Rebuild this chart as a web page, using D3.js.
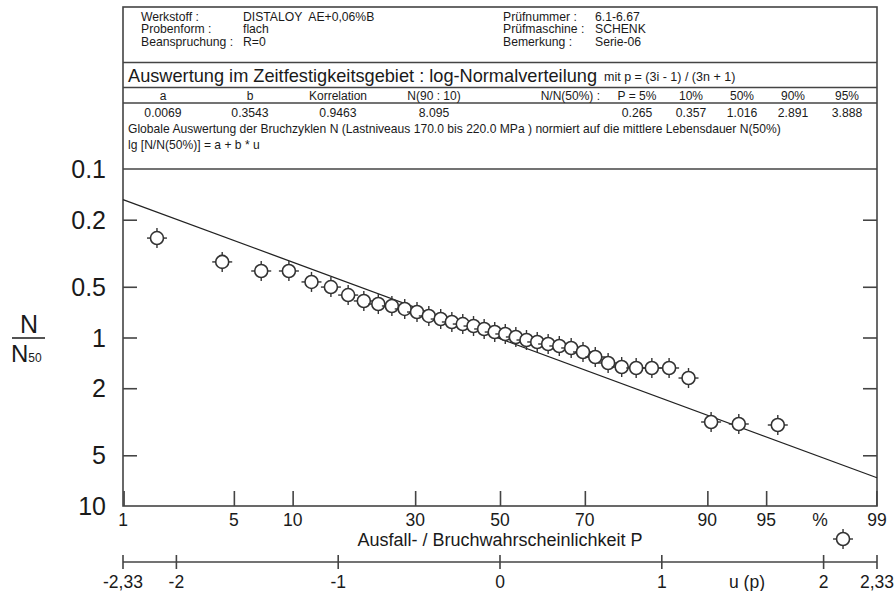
<!DOCTYPE html>
<html>
<head>
<meta charset="utf-8">
<script src="https://cdn.jsdelivr.net/npm/d3@7"></script>
<style>
  body { margin: 0; background: #fff; }
  svg { display: block; font-family: "Liberation Sans", Arial, sans-serif; }
  text { white-space: pre; }
</style>
</head>
<body>
<div id="chart"></div>
<script>
// Ausfallwahrscheinlichkeit P (%) der Proben, Reihenfolge i = 1..38
const probPercent = [1.7, 4.3, 7.0, 9.6, 12.2, 14.8, 17.4, 20.0, 22.6, 25.2,
  27.8, 30.4, 33.0, 35.7, 38.3, 40.9, 43.5, 46.1, 48.7, 51.3,
  53.9, 56.5, 59.1, 61.7, 64.3, 67.0, 69.6, 72.2, 74.8, 77.4,
  80.0, 82.6, 85.2, 87.8, 90.4, 93.0, 95.7, 98.3];
// N / N50
const nRatio = [0.257, 0.356, 0.403, 0.403, 0.468, 0.502, 0.560, 0.607, 0.633, 0.650,
  0.677, 0.706, 0.745, 0.777, 0.809, 0.832, 0.855, 0.890, 0.928, 0.953,
  0.993, 1.035, 1.063, 1.093, 1.123, 1.154, 1.219, 1.305, 1.417, 1.497,
  1.517, 1.517, 1.517, 1.740, 3.173, 3.261, 3.306, 15.7];

// Regression lg[N/N(50%)] = a + b*u
const fitA = 0.0069;
const fitB = 0.3543;

const yTicks = [0.1, 0.2, 0.5, 1, 2, 5, 10];
const pTicks = [1, 5, 10, 30, 50, 70, 90, 95, 99];
const uTicks = [-2.33, -2, -1, 0, 1, 2, 2.33];

const infoLeft = [["Werkstoff :", "DISTALOY  AE+0,06%B"], ["Probenform :", "flach"], ["Beanspruchung :", "R=0"]];
const infoRight = [["Prüfnummer :", "6.1-6.67"], ["Prüfmaschine :", "SCHENK"], ["Bemerkung :", "Serie-06"]];
const colHeads = ["a", "b", "Korrelation", "N(90 : 10)"];
const colValues = ["0.0069", "0.3543", "0.9463", "8.095"];
const pHeads = ["P = 5%", "10%", "50%", "90%", "95%"];
const pValues = ["0.265", "0.357", "1.016", "2.891", "3.888"];

// inverse Normalverteilung (Acklam)
function normInv(p) {
  const a = [-3.969683028665376e+01, 2.209460984245205e+02, -2.759285104469687e+02, 1.383577518672690e+02, -3.066479806614716e+01, 2.506628277459239e+00];
  const b = [-5.447609879822406e+01, 1.615858368580409e+02, -1.556989798598866e+02, 6.680131188771972e+01, -1.328068155288572e+01];
  const c = [-7.784894002430293e-03, -3.223964580411365e-01, -2.400758277161838e+00, -2.549732539343734e+00, 4.374664141464968e+00, 2.938163982698783e+00];
  const d = [7.784695709041462e-03, 3.224671290700398e-01, 2.445134137142996e+00, 3.754408661907416e+00];
  const pl = 0.02425;
  let q, r;
  if (p < pl) {
    q = Math.sqrt(-2 * Math.log(p));
    return (((((c[0]*q+c[1])*q+c[2])*q+c[3])*q+c[4])*q+c[5]) / ((((d[0]*q+d[1])*q+d[2])*q+d[3])*q+1);
  } else if (p <= 1 - pl) {
    q = p - 0.5; r = q * q;
    return (((((a[0]*r+a[1])*r+a[2])*r+a[3])*r+a[4])*r+a[5])*q / (((((b[0]*r+b[1])*r+b[2])*r+b[3])*r+b[4])*r+1);
  }
  q = Math.sqrt(-2 * Math.log(1 - p));
  return -(((((c[0]*q+c[1])*q+c[2])*q+c[3])*q+c[4])*q+c[5]) / ((((d[0]*q+d[1])*q+d[2])*q+d[3])*q+1);
}

const W = 896, H = 591;
const frameL = 123, frameR = 877, frameT = 7, plotTop = 169, plotBottom = 506;
const ink = "#444", txt = "#1a1a1a";

const svg = d3.select("#chart").append("svg").attr("width", W).attr("height", H);

const x = d3.scaleLinear().domain([-2.33, 2.33]).range([frameL, frameR]);
const y = d3.scaleLog().domain([0.1, 10]).range([plotTop, plotBottom]);

// Rahmen
svg.append("rect")
  .attr("x", frameL).attr("y", frameT)
  .attr("width", frameR - frameL).attr("height", plotBottom - frameT)
  .attr("fill", "none").attr("stroke", ink).attr("stroke-width", 1.6);

[62.5, 87.5, 103, plotTop].forEach(yy => {
  svg.append("line").attr("x1", frameL).attr("x2", frameR).attr("y1", yy).attr("y2", yy)
    .attr("stroke", ink).attr("stroke-width", 1.4);
});

// Kopf
const head = svg.append("g").attr("fill", txt);
infoLeft.forEach((r, i) => {
  head.append("text").attr("x", 141).attr("y", 21 + i * 12.3).attr("font-size", 12.2).text(r[0]);
  head.append("text").attr("x", 243).attr("y", 21 + i * 12.3).attr("font-size", 12.2).text(r[1]);
});
infoRight.forEach((r, i) => {
  head.append("text").attr("x", 503).attr("y", 21 + i * 12.3).attr("font-size", 12.2).text(r[0]);
  head.append("text").attr("x", 595).attr("y", 21 + i * 12.3).attr("font-size", 12.2).text(r[1]);
});

head.append("text").attr("x", 128).attr("y", 81.5).attr("font-size", 18.2)
  .text("Auswertung im Zeitfestigkeitsgebiet : log-Normalverteilung");
head.append("text").attr("x", 604).attr("y", 81).attr("font-size", 12.5)
  .text("mit p = (3i - 1) / (3n + 1)");

const colX = [163, 250, 338, 434];
colHeads.forEach((t, i) => {
  head.append("text").attr("x", colX[i]).attr("y", 99.8).attr("font-size", 12)
    .attr("text-anchor", "middle").text(t);
  head.append("text").attr("x", colX[i]).attr("y", 116.5).attr("font-size", 12.2)
    .attr("text-anchor", "middle").text(colValues[i]);
});
head.append("text").attr("x", 600).attr("y", 99.8).attr("font-size", 12)
  .attr("text-anchor", "end").text("N/N(50%) :");
const pX = [637, 691, 742, 793, 847];
pHeads.forEach((t, i) => {
  head.append("text").attr("x", pX[i]).attr("y", 99.8).attr("font-size", 12)
    .attr("text-anchor", "middle").text(t);
  head.append("text").attr("x", pX[i]).attr("y", 116.5).attr("font-size", 12.2)
    .attr("text-anchor", "middle").text(pValues[i]);
});
head.append("text").attr("x", 128).attr("y", 132.5).attr("font-size", 12.1)
  .text("Globale Auswertung der Bruchzyklen N (Lastniveaus 170.0 bis 220.0 MPa ) normiert auf die mittlere Lebensdauer N(50%)");
head.append("text").attr("x", 128).attr("y", 149).attr("font-size", 12.1)
  .text("lg [N/N(50%)] = a + b * u");

// y-Achse (links und rechts)
const yAxisL = d3.axisRight(y).tickValues(yTicks.slice(1, -1)).tickSize(14).tickFormat("");
const yAxisR = d3.axisLeft(y).tickValues(yTicks.slice(1, -1)).tickSize(14).tickFormat("");
svg.append("g").attr("transform", `translate(${frameL},0)`).call(yAxisL)
  .call(g => g.select(".domain").remove())
  .selectAll("line").attr("stroke", ink).attr("stroke-width", 1.6);
svg.append("g").attr("transform", `translate(${frameR},0)`).call(yAxisR)
  .call(g => g.select(".domain").remove())
  .selectAll("line").attr("stroke", ink).attr("stroke-width", 1.6);

svg.append("g").selectAll("text").data(yTicks).join("text")
  .attr("x", 106).attr("y", d => y(d)).attr("dy", "0.36em")
  .attr("text-anchor", "end").attr("font-size", 25).attr("fill", txt)
  .text(d => d);

// N / N50
svg.append("text").attr("x", 29).attr("y", 333).attr("text-anchor", "middle")
  .attr("font-size", 25).attr("fill", txt).text("N");
svg.append("line").attr("x1", 12).attr("x2", 45).attr("y1", 338).attr("y2", 338)
  .attr("stroke", txt).attr("stroke-width", 1.5);
svg.append("text").attr("x", 11).attr("y", 362).attr("font-size", 24).attr("fill", txt)
  .text("N").append("tspan").attr("font-size", 12).text("50");

// P-Achse
const pAxis = d3.axisTop(x).tickValues(pTicks.map(p => normInv(p / 100))).tickSize(15).tickFormat("");
svg.append("g").attr("transform", `translate(0,${plotBottom})`).call(pAxis)
  .call(g => g.select(".domain").remove())
  .selectAll("line").attr("stroke", ink).attr("stroke-width", 1.6);
svg.append("g").selectAll("text").data(pTicks).join("text")
  .attr("x", d => d === 1 ? frameL : d === 99 ? frameR : x(normInv(d / 100)))
  .attr("y", 526).attr("text-anchor", "middle").attr("font-size", 17.5).attr("fill", txt)
  .text(d => d);
svg.append("text").attr("x", 820).attr("y", 526).attr("text-anchor", "middle")
  .attr("font-size", 17.5).attr("fill", txt).text("%");
svg.append("text").attr("x", 500).attr("y", 546).attr("text-anchor", "middle")
  .attr("font-size", 18).attr("fill", txt).text("Ausfall- / Bruchwahrscheinlichkeit P");

// u-Achse
const uY = 562;
svg.append("line").attr("x1", frameL).attr("x2", frameR).attr("y1", uY).attr("y2", uY)
  .attr("stroke", ink).attr("stroke-width", 1.6);
svg.append("g").selectAll("line").data(uTicks).join("line")
  .attr("x1", d => x(d)).attr("x2", d => x(d)).attr("y1", uY - 7).attr("y2", uY + 7)
  .attr("stroke", ink).attr("stroke-width", 1.6);
svg.append("g").selectAll("text").data(uTicks).join("text")
  .attr("x", d => x(d)).attr("y", 588).attr("text-anchor", "middle")
  .attr("font-size", 17.5).attr("fill", txt)
  .text(d => String(d).replace(".", ","));
svg.append("text").attr("x", 747).attr("y", 588).attr("text-anchor", "middle")
  .attr("font-size", 17.5).attr("fill", txt).text("u (p)");

// Regressionsgerade
const uEnds = x.domain();
svg.append("line")
  .attr("x1", x(uEnds[0])).attr("y1", y(Math.pow(10, fitA + fitB * uEnds[0])))
  .attr("x2", x(uEnds[1])).attr("y2", y(Math.pow(10, fitA + fitB * uEnds[1])))
  .attr("stroke", "#222").attr("stroke-width", 1.3);

// Messpunkte
const pts = probPercent.map((p, i) => ({ u: normInv(p / 100), v: nRatio[i] }));
const r = 6.5;
const mark = svg.append("g").selectAll("g").data(pts).join("g")
  .attr("transform", d => `translate(${x(d.u)},${y(d.v)})`);
mark.append("circle").attr("r", r).attr("fill", "#fff")
  .attr("stroke", "#333").attr("stroke-width", 1.6);
[[0, -1], [0, 1], [-1, 0], [1, 0]].forEach(([dx, dy]) => {
  mark.append("line")
    .attr("x1", dx * r).attr("y1", dy * r)
    .attr("x2", dx * (r + 3.5)).attr("y2", dy * (r + 3.5))
    .attr("stroke", "#333").attr("stroke-width", 1.4);
});
</script>
</body>
</html>
